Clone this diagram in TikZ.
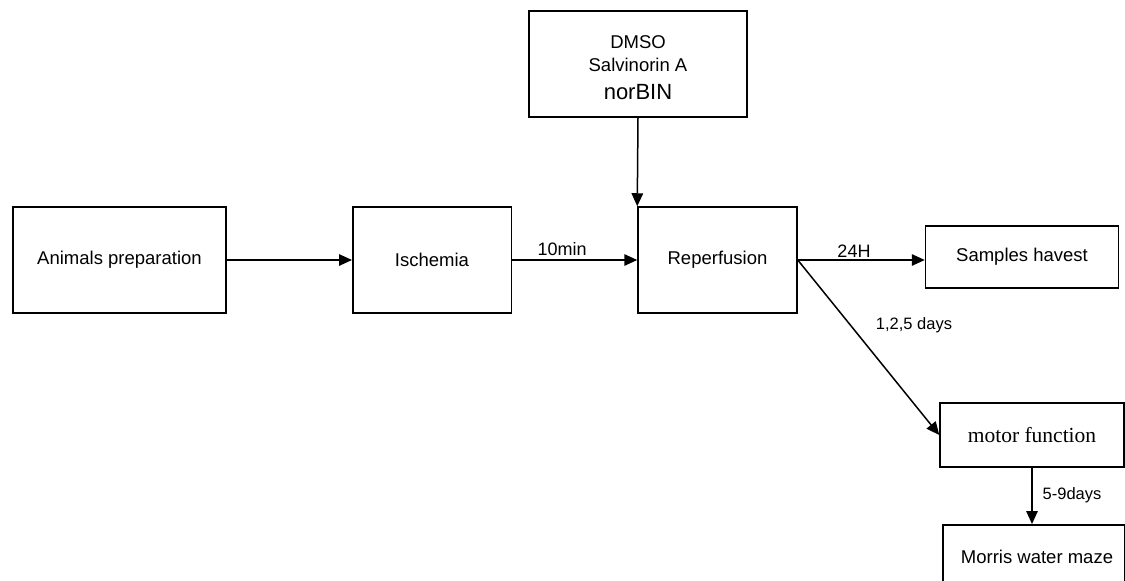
\documentclass[tikz,border=0pt]{standalone}
\usepackage{fontspec}
\setmainfont{Liberation Sans}
\newfontfamily\tnr{Liberation Serif}
\usetikzlibrary{arrows.meta,positioning}
\tikzset{
  box/.style={draw, line width=1.5pt, rectangle, inner sep=0pt, font=\fontsize{18.5}{22}\selectfont},
  arr/.style={line width=1.5pt, -{Triangle[length=13pt,width=11.5pt]}},
  lbl/.style={inner sep=0pt, anchor=base, font=\fontsize{18}{22}\selectfont},
  slbl/.style={inner sep=0pt, anchor=base, font=\fontsize{16.5}{20}\selectfont},
}
\begin{document}
\begin{tikzpicture}[x=1pt,y=-1pt]
\clip (0,0) rectangle (1125,581);
\fill[white] (0,0) rectangle (1125,581);
% boxes
\node[box, minimum width=218pt, minimum height=106pt] (dmso) at (638,64) {};
\node[inner sep=0pt, align=center, font=\fontsize{18.5}{23}\selectfont] (dmsotxt) at (638,68)
  {DMSO\\Salvinorin A\\[5pt]{\fontsize{22}{24}\selectfont norBIN}};
\node[box, minimum width=213pt, minimum height=106pt] (animals) at (119.5,260) {Animals preparation};
\node[box, minimum width=158.5pt, minimum height=106pt] (isch) at (432,260) {Ischemia};
\node[box, minimum width=159pt, minimum height=106pt] (rep) at (717.5,260) {Reperfusion};
\node[box, minimum width=193pt, minimum height=62pt] (samp) at (1022,257) {Samples havest};
\node[box, minimum width=184pt, minimum height=64pt, font=\tnr\fontsize{21.5}{24}\selectfont] (motor) at (1032,435) {motor function};
\node[box, minimum width=182pt, minimum height=70pt, anchor=north west] (morris) at (942,524) {};
\node[inner sep=0pt, anchor=base, font=\fontsize{18.5}{22}\selectfont] (morristxt) at (1037,563) {Morris water maze};
% connectors
\draw[arr] (animals.east) -- (isch.west);
\draw[arr] (isch.east) -- node[lbl, above=4pt, pos=0.4] (l10) {10min} (rep.west);
\draw[arr] (dmso.south) -- (rep.north west);
\draw[arr] (rep.east) -- (samp.west |- rep.east);
\draw[arr] (rep.east) -- (motor.west);
\draw[arr] (motor.south) -- (motor.south |- morris.north);
% labels
\node[lbl] (l24) at (854,257) {24H};
\node[slbl] (l125) at (914,329) {1,2,5 days};
\node[slbl] (l59) at (1072,499) {5-9days};
\end{tikzpicture}
\end{document}
